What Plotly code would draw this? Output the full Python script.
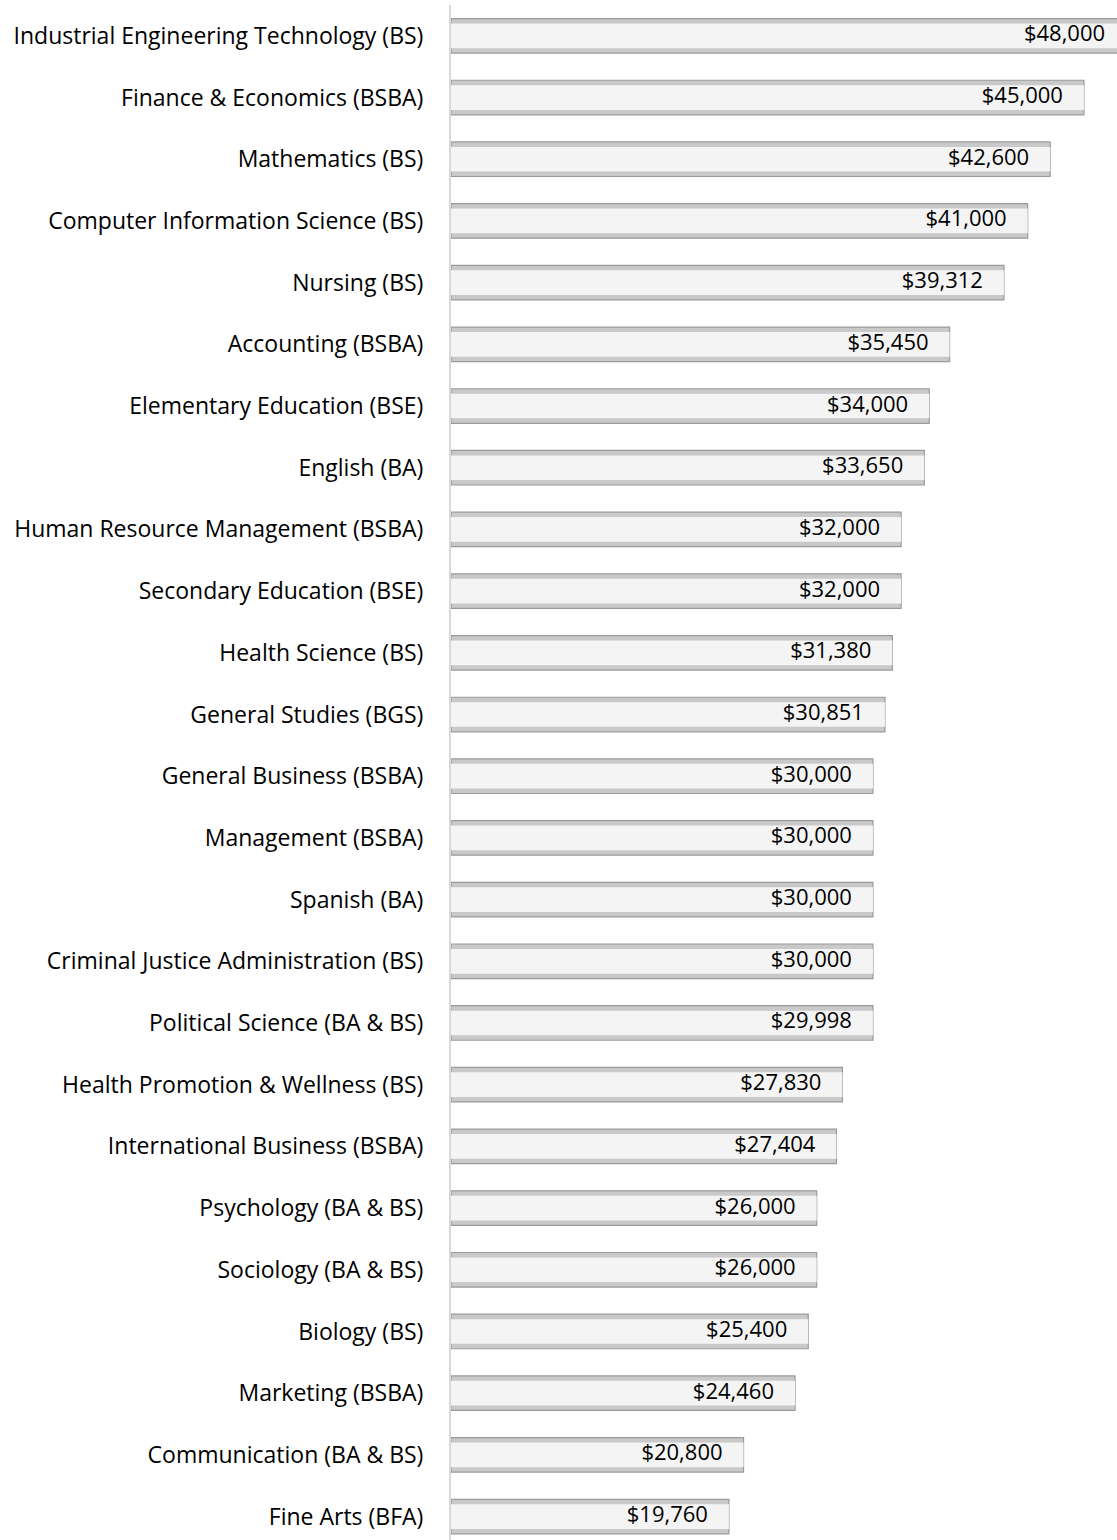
import plotly.graph_objects as go

majors = [
    "Industrial Engineering Technology (BS)",
    "Finance & Economics (BSBA)",
    "Mathematics (BS)",
    "Computer Information Science (BS)",
    "Nursing (BS)",
    "Accounting (BSBA)",
    "Elementary Education (BSE)",
    "English (BA)",
    "Human Resource Management (BSBA)",
    "Secondary Education (BSE)",
    "Health Science (BS)",
    "General Studies (BGS)",
    "General Business (BSBA)",
    "Management (BSBA)",
    "Spanish (BA)",
    "Criminal Justice Administration (BS)",
    "Political Science (BA & BS)",
    "Health Promotion & Wellness (BS)",
    "International Business (BSBA)",
    "Psychology (BA & BS)",
    "Sociology (BA & BS)",
    "Biology (BS)",
    "Marketing (BSBA)",
    "Communication (BA & BS)",
    "Fine Arts (BFA)",
]
salaries = [48000, 45000, 42600, 41000, 39312, 35450, 34000, 33650, 32000, 32000,
            31380, 30851, 30000, 30000, 30000, 30000, 29998, 27830, 27404, 26000,
            26000, 25400, 24460, 20800, 19760]

FONT = "Open Sans"
FS = 23
VFS = 22

fig = go.Figure()
# outer bar: darker bevel/border
fig.add_trace(go.Bar(
    x=salaries, y=majors, orientation="h",
    width=0.56,
    marker=dict(color="#c9c9c9", line=dict(color="#9a9a9a", width=1.2)),
    hoverinfo="skip",
))
# inner highlight
fig.add_trace(go.Bar(
    x=salaries, y=majors, orientation="h",
    width=0.40,
    marker=dict(color="#f4f4f4", line=dict(width=0)),
    hoverinfo="skip",
))
# value labels, placed left of each bar end (invisible marker gives the offset)
fig.add_trace(go.Scatter(
    x=salaries, y=majors, mode="markers+text",
    marker=dict(size=32, opacity=0),
    text=[f"${v:,.0f}" for v in salaries],
    textposition="middle left",
    textfont=dict(family=FONT, size=VFS, color="#000000"),
    hoverinfo="skip",
))

fig.update_layout(
    width=1130, height=1540,
    barmode="overlay",
    margin=dict(l=451, r=0, t=5, b=0),
    paper_bgcolor="white", plot_bgcolor="white",
    showlegend=False,
    font=dict(family=FONT, size=FS, color="#000000"),
    xaxis=dict(range=[0, 48276], visible=False, showgrid=False, zeroline=False),
    yaxis=dict(
        categoryorder="array", categoryarray=majors,
        range=[24.38, -0.5],
        showline=True, linecolor="#d9d9d9", linewidth=2,
        showgrid=False, zeroline=False, ticks="",
        ticklabelstandoff=21,
        tickfont=dict(family=FONT, size=FS, color="#000000"),
    ),
)

fig.write_html(
    "out.html",
    config={"displayModeBar": False},
    post_script="document.body.style.margin='0';document.body.style.overflow='hidden';"
                "document.documentElement.style.overflow='hidden';",
)
